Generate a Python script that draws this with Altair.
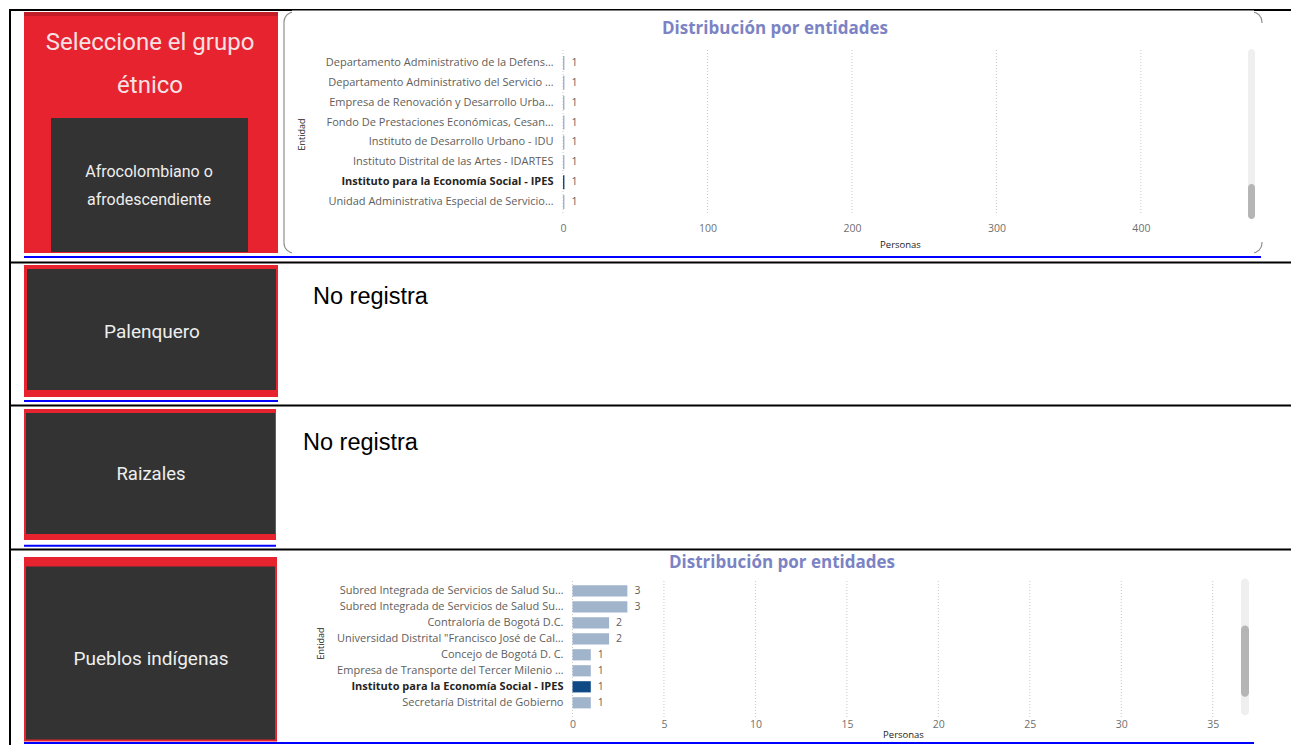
import altair as alt
import pandas as pd

# ---------------- data ----------------
titulo_selector = ["Seleccione el grupo", "étnico"]
grupos = [
    ["Afrocolombiano o", "afrodescendiente"],
    ["Palenquero"],
    ["Raizales"],
    ["Pueblos indígenas"],
]
sin_registro = "No registra"
titulo_grafico = "Distribución por entidades"
titulo_eje_y = "Entidad"
titulo_eje_x = "Personas"

entidades_afro = [
    "Departamento Administrativo de la Defens…",
    "Departamento Administrativo del Servicio …",
    "Empresa de Renovación y Desarrollo Urba…",
    "Fondo De Prestaciones Económicas, Cesan…",
    "Instituto de Desarrollo Urbano - IDU",
    "Instituto Distrital de las Artes - IDARTES",
    "Instituto para la Economía Social - IPES",
    "Unidad Administrativa Especial de Servicio…",
]
personas_afro = [1, 1, 1, 1, 1, 1, 1, 1]
ticks_afro = [0, 100, 200, 300, 400]
dominio_afro = [0, 470]

entidades_indigenas = [
    "Subred Integrada de Servicios de Salud Su…",
    "Subred Integrada de Servicios de Salud Su…",
    "Contraloría de Bogotá D.C.",
    "Universidad Distrital \"Francisco José de Cal…",
    "Concejo de Bogotá D. C.",
    "Empresa de Transporte del Tercer Milenio …",
    "Instituto para la Economía Social - IPES",
    "Secretaría Distrital de Gobierno",
]
personas_indigenas = [3, 3, 2, 2, 1, 1, 1, 1]
ticks_indigenas = [0, 5, 10, 15, 20, 25, 30, 35]
dominio_indigenas = [0, 36.3]

# ---------------- style ----------------
UI = "Open Sans, Noto Sans, DejaVu Sans"
BTN = "Roboto, Liberation Sans"
ARIAL = "Liberation Sans, Arial"
RED = "#e6232f"
DARKRED = "#c21d28"
DARK = "#333333"
BLUE = "#0000ff"
TITLE = "#7b83c4"
LIGHTBAR = "#a0b4cc"
DARKBAR = "#0f4a84"
GRAY = "#605e5c"
TICKGRAY = "#6f6f6f"
TXT = "#252423"
GRID = "#c8c8c8"
BTNTXT = "#eeeeee"
COND = "indexof(datum.value, 'IPES') >= 0"
COL1 = 554

dummy = pd.DataFrame({"k": [0]})


def rect(x, x2, y, y2, color, **kw):
    return alt.Chart(dummy).mark_rect(color=color, **kw).encode(
        x=alt.value(x), x2=alt.value(x2), y=alt.value(y), y2=alt.value(y2))


def hline(x, x2, y, color, w=2):
    return alt.Chart(dummy).mark_rule(color=color, strokeWidth=w).encode(
        x=alt.value(x), x2=alt.value(x2), y=alt.value(y))


def vline(x, y, y2, color, w=2):
    return alt.Chart(dummy).mark_rule(color=color, strokeWidth=w).encode(
        x=alt.value(x), y=alt.value(y), y2=alt.value(y2))


def texto(x, y, t, size, color, font, **kw):
    return alt.Chart(pd.DataFrame({"t": [t]})).mark_text(
        fontSize=size, color=color, font=font, baseline="middle", **kw
    ).encode(x=alt.value(x), y=alt.value(y), text="t:N")


def bar_panel(entidades, personas, ticks, dominio, width, height, x_range, y_range,
              grid_y, label_pad, ytitle, xtitle, tpos, track, thumb, sx):
    claves = [f"{i}|{e}" for i, e in enumerate(entidades)]
    df = pd.DataFrame({"clave": claves, "personas": personas})
    gdf = pd.DataFrame({"t": ticks})
    xs = alt.Scale(domain=dominio, range=x_range, nice=False, zero=True)
    ys = alt.Scale(domain=claves, range=y_range, paddingInner=0.3, paddingOuter=0.15)
    xaxis = alt.Axis(values=ticks, grid=False, domain=False, ticks=False,
                     labelPadding=1, labelFont=UI, labelFontSize=10.5,
                     labelColor=TICKGRAY, labelFlush=False,
                     title=titulo_eje_x, titleFont=UI, titleFontSize=9.5,
                     titleFontWeight="normal", titleColor=TXT,
                     titleX=xtitle[0], titleY=xtitle[1],
                     titleBaseline="middle", titleAlign="center")
    yaxis = alt.Axis(domain=False, ticks=False, grid=False,
                     labelPadding=label_pad, labelLimit=400,
                     labelExpr="split(datum.value, '|')[1]",
                     labelFont=UI, labelFontSize=11,
                     labelColor={"condition": {"test": COND, "value": TXT}, "value": GRAY},
                     labelFontWeight={"condition": {"test": COND, "value": "bold"}, "value": "normal"},
                     title=titulo_eje_y, titleFont=UI, titleFontSize=9,
                     titleFontWeight="normal", titleColor=TXT,
                     titleX=ytitle[0], titleY=ytitle[1], titleAngle=270,
                     titleBaseline="middle", titleAlign="center")
    grid = alt.Chart(gdf).mark_rule(color=GRID, strokeDash=[1, 2], strokeWidth=1).encode(
        x=alt.X("t:Q", scale=xs, axis=xaxis),
        y=alt.value(grid_y[0]), y2=alt.value(grid_y[1]))
    bars = alt.Chart(df).mark_bar().encode(
        x=alt.X("personas:Q", scale=xs, axis=xaxis),
        y=alt.Y("clave:N", scale=ys, axis=yaxis, sort=None),
        color=alt.condition("indexof(datum.clave, 'IPES') >= 0",
                            alt.value(DARKBAR), alt.value(LIGHTBAR)))
    labels = alt.Chart(df).mark_text(align="left", baseline="middle", dx=7,
                                     font=UI, fontSize=10.5, color=GRAY).encode(
        x=alt.X("personas:Q", scale=xs, axis=xaxis),
        y=alt.Y("clave:N", scale=ys, axis=yaxis, sort=None),
        text="personas:Q")
    titulo = texto(tpos[0], tpos[1], titulo_grafico, 17, TITLE, UI,
                   fontWeight="bold", align="center")
    sb_track = rect(sx[0], sx[1], track[0], track[1], "#efefef", cornerRadius=4)
    sb_thumb = rect(sx[0], sx[1], thumb[0], thumb[1], "#b5b5b5", cornerRadius=4)
    return alt.layer(sb_track, sb_thumb, grid, bars, labels, titulo).properties(
        width=width, height=height)


# ---------------- row 1 ----------------
btn1 = alt.layer(
    hline(0, 1282, 1, "black"),
    vline(1, 0, 252, "black"),
    rect(275, 1253, 3, 244, "white", stroke="#8f8f8f", strokeWidth=1.2, cornerRadius=10),
    rect(283, 1245, 1.5, 246, "white"),
    rect(1247, 1256, 14, 233, "white"),
    rect(15, 269, 3, 244, RED),
    rect(15, 269, 3, 7, DARKRED),
    texto(141, 34, titulo_selector[0], 24, "#f7e1e3", BTN, align="center"),
    texto(141, 77, titulo_selector[1], 24, "#f7e1e3", BTN, align="center"),
    rect(42, 239, 109, 243, DARK),
    texto(140, 163, grupos[0][0], 16, BTNTXT, BTN, align="center"),
    texto(140, 191, grupos[0][1], 16, BTNTXT, BTN, align="center"),
    hline(15, 1252, 248, BLUE, 2),
).properties(width=COL1, height=252)

chart1 = bar_panel(entidades_afro, personas_afro, ticks_afro, dominio_afro,
                   width=679, height=213, x_range=[0, 679], y_range=[44, 203],
                   grid_y=[41, 205], label_pad=10, ytitle=(-262, 125),
                   xtitle=(337, 22), tpos=(212, 20), track=(40, 210),
                   thumb=(175, 210), sx=(685, 692))

# ---------------- row 2 ----------------
btn2 = alt.layer(
    hline(0, 1282, 1.5, "black"),
    vline(1, 0, 143, "black"),
    rect(15, 269, 4, 136, RED),
    rect(18, 267, 8, 129, DARK),
    texto(143, 71, grupos[1][0], 19, BTNTXT, BTN, align="center"),
    hline(15, 269, 140, BLUE, 2),
).properties(width=COL1, height=143)
txt2 = texto(312 - 8 - COL1, 36, sin_registro, 23.5, "black", ARIAL,
             align="left").properties(width=1282 - COL1, height=143)

# ---------------- row 3 ----------------
btn3 = alt.layer(
    hline(0, 1282, 1.5, "black"),
    vline(1, 0, 144, "black"),
    rect(15, 267, 5, 136, RED),
    rect(17, 266, 9, 130, DARK),
    texto(142, 70, grupos[2][0], 18.5, BTNTXT, BTN, align="center"),
    hline(15, 267, 141.7, BLUE, 2),
).properties(width=COL1, height=144)
txt3 = texto(302 - 8 - COL1, 39, sin_registro, 23.5, "black", ARIAL,
             align="left").properties(width=1282 - COL1, height=144)

# ---------------- row 4 ----------------
btn4 = alt.layer(
    hline(0, 1282, 1.5, "black"),
    vline(1, 0, 197, "black"),
    rect(15, 268, 9, 193.5, RED),
    rect(17, 266, 18.6, 191.5, DARK),
    texto(142, 111, grupos[3][0], 19, BTNTXT, BTN, align="center"),
    hline(15, 1245, 195, BLUE, 2),
).properties(width=COL1, height=197)

chart4 = bar_panel(entidades_indigenas, personas_indigenas, ticks_indigenas,
                   dominio_indigenas, width=682, height=170,
                   x_range=[9.5, 673.5], y_range=[34.8, 162.8], grid_y=[33, 170],
                   label_pad=0, ytitle=(-242.6, 95), xtitle=(340, 16),
                   tpos=(219, 15), track=(30.6, 167.2), thumb=(77.4, 148.7),
                   sx=(678, 686))

chart = alt.concat(
    btn1, chart1, btn2, txt2, btn3, txt3, btn4, chart4,
    columns=2, spacing=0, bounds="flush",
).properties(padding=0, background="white").configure_view(stroke=None)

chart.save("out.html", embed_options={"renderer": "svg", "actions": False})
